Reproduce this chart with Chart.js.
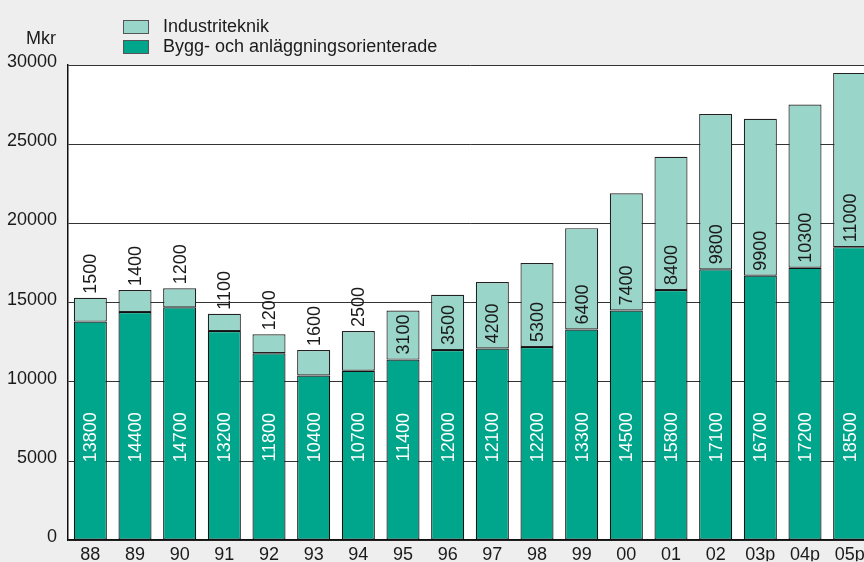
<!DOCTYPE html>
<html>
<head>
<meta charset="utf-8">
<script src="https://cdn.jsdelivr.net/npm/chart.js@4/dist/chart.umd.min.js"></script>
<style>
  html, body { margin: 0; padding: 0; background: #eeeeee; overflow: hidden; }
  #wrap { width: 872px; height: 562px; }
</style>
</head>
<body>
<div id="wrap"><canvas id="c" width="872" height="562"></canvas></div>
<script>
const categories = ['88','89','90','91','92','93','94','95','96','97','98','99','00','01','02','03p','04p','05p'];
const byggValues = [13800,14400,14700,13200,11800,10400,10700,11400,12000,12100,12200,13300,14500,15800,17100,16700,17200,18500];
const industriValues = [1500,1400,1200,1100,1200,1600,2500,3100,3500,4200,5300,6400,7400,8400,9800,9900,10300,11000];
const yTicks = [0,5000,10000,15000,20000,25000,30000];
const seriesNames = ['Bygg- och anläggningsorienterade', 'Industriteknik'];
const unitLabel = 'Mkr';

const DARK = '#00a68b';
const LIGHT = '#9ad5c9';
const FONT = '"Liberation Sans", Arial, Helvetica, sans-serif';
const FS = 18;

const bgPlugin = {
  id: 'bg',
  beforeDraw(chart) {
    const {ctx, chartArea: a} = chart;
    ctx.save();
    ctx.fillStyle = '#ffffff';
    ctx.fillRect(a.left, a.top, a.right - a.left, a.bottom - a.top);
    ctx.restore();
  }
};

const labelsPlugin = {
  id: 'barLabels',
  afterDatasetsDraw(chart) {
    const {ctx} = chart;
    const yScale = chart.scales.y;
    ctx.save();
    ctx.font = FS + 'px ' + FONT;
    ctx.textBaseline = 'middle';
    const m0 = chart.getDatasetMeta(0);
    m0.data.forEach((bar, i) => {
      const yc = yScale.getPixelForValue(6500);
      ctx.save();
      ctx.translate(bar.x, yc);
      ctx.rotate(-Math.PI / 2);
      ctx.fillStyle = '#ffffff';
      ctx.textAlign = 'center';
      ctx.fillText(String(byggValues[i]), 0, 1);
      ctx.restore();
    });
    const m1 = chart.getDatasetMeta(1);
    m1.data.forEach((bar, i) => {
      const v = industriValues[i];
      const y0 = v < 3000 ? bar.y - 4 : bar.base - 5;
      ctx.save();
      ctx.translate(bar.x, y0);
      ctx.rotate(-Math.PI / 2);
      ctx.fillStyle = '#1a1a1a';
      ctx.textAlign = 'left';
      ctx.fillText(String(v), 0, 1);
      ctx.restore();
    });
    ctx.restore();
  },
  afterDraw(chart) {
    const {ctx} = chart;
    ctx.save();
    ctx.font = FS + 'px ' + FONT;
    ctx.fillStyle = '#1a1a1a';
    ctx.textAlign = 'right';
    ctx.textBaseline = 'middle';
    ctx.fillText(unitLabel, 56, 39);
    const items = [
      {name: seriesNames[1], color: LIGHT, y: 27},
      {name: seriesNames[0], color: DARK, y: 47}
    ];
    items.forEach(it => {
      ctx.fillStyle = it.color;
      ctx.fillRect(123.5, it.y - 6.5, 25, 13);
      ctx.strokeStyle = '#555';
      ctx.lineWidth = 1;
      ctx.strokeRect(123.5, it.y - 6.5, 25, 13);
      ctx.fillStyle = '#1a1a1a';
      ctx.textAlign = 'left';
      ctx.fillText(it.name, 163, it.y);
    });
    ctx.restore();
  }
};

new Chart(document.getElementById('c'), {
  type: 'bar',
  data: {
    labels: categories,
    datasets: [
      { label: seriesNames[0], data: byggValues, backgroundColor: DARK, borderColor: '#111', borderWidth: 1.2, borderSkipped: false },
      { label: seriesNames[1], data: industriValues, backgroundColor: LIGHT, borderColor: '#222', borderWidth: 1.2, borderSkipped: false }
    ]
  },
  options: {
    responsive: false,
    animation: false,
    devicePixelRatio: 1,
    layout: { padding: { top: 65, left: 0, right: 0, bottom: 0 } },
    plugins: { legend: { display: false }, tooltip: { enabled: false } },
    datasets: { bar: { categoryPercentage: 1, barPercentage: 0.74 } },
    scales: {
      x: {
        stacked: true,
        grid: { display: false, drawTicks: false },
        border: { display: true, color: '#111', width: 1.5 },
        ticks: { color: '#1a1a1a', font: { family: FONT, size: FS }, padding: 4, maxRotation: 0, autoSkip: false },
        afterFit(s) { s.height = 21; }
      },
      y: {
        stacked: true,
        min: 0, max: 30000,
        afterBuildTicks(s) { s.ticks = yTicks.map(v => ({value: v})); },
        grid: { color: '#333', lineWidth: 1, drawTicks: false },
        border: { display: true, color: '#111', width: 1.5 },
        ticks: { color: '#1a1a1a', font: { family: FONT, size: FS }, padding: 11, labelOffset: -3,
                 callback: (v) => String(v) },
        afterFit(s) { s.width = 68; }
      }
    }
  },
  plugins: [bgPlugin, labelsPlugin]
});
</script>
</body>
</html>
